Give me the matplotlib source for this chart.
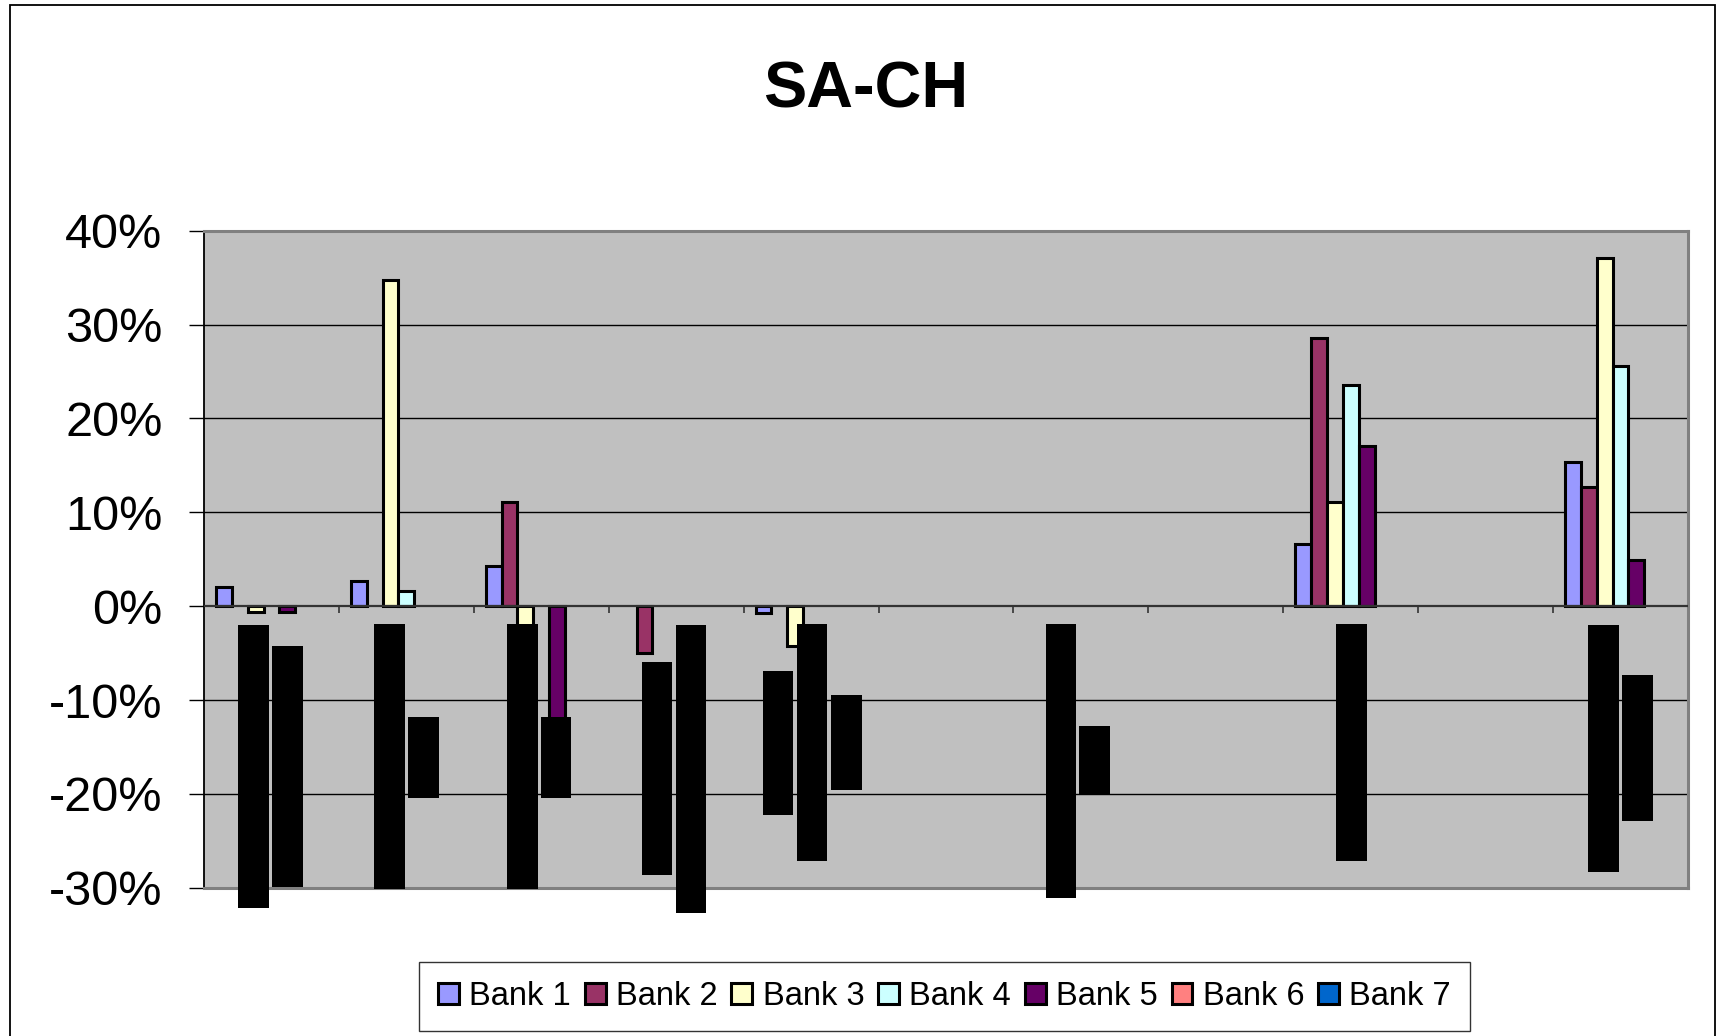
import numpy as np
import matplotlib
matplotlib.use("Agg")
import matplotlib.pyplot as plt
from matplotlib.patches import Rectangle
from matplotlib.ticker import FuncFormatter

# ---------------- data ----------------
categories = ["", "", "", "", "", "", "", "", "", "", ""]
nan = np.nan
bank1 = [2.0, 2.7, 4.3, nan, -0.7, nan, nan, nan, 6.6, nan, 15.4]
bank2 = [nan, nan, 11.1, -5.0, nan, nan, nan, nan, 28.6, nan, 12.75]
bank3 = [-0.65, 34.8, -3.0, nan, -4.25, nan, nan, nan, 11.1, nan, 37.1]
bank4 = [nan, 1.66, nan, nan, nan, nan, nan, nan, 23.6, nan, 25.6]
bank5 = [-0.65, nan, -13.0, nan, nan, nan, nan, nan, 17.05, nan, 4.9]
bank6 = [nan] * 11
bank7 = [nan] * 11
series_names = ["Bank 1", "Bank 2", "Bank 3", "Bank 4", "Bank 5", "Bank 6", "Bank 7"]
series_colors = ["#9999FF", "#993366", "#FFFFCC", "#CCFFFF", "#660066", "#FF8080", "#0066CC"]
y_ticks = [-30, -20, -10, 0, 10, 20, 30, 40]

# redaction boxes (black) covering data labels: category, offset from category centre, top, bottom (%)
box_cat = [0, 0, 1, 1, 2, 2, 3, 3, 4, 4, 4, 6, 6, 8, 10, 10]
box_off = [-0.132, 0.117, -0.126, 0.127, -0.139, 0.110, -0.141, 0.111,
           -0.246, 0.006, 0.261, -0.148, 0.102, 0.005, -0.128, 0.127]
box_top = [-2.05, -4.25, -1.95, -11.8, -1.95, -11.8, -5.96, -2.05,
           -6.9, -1.95, -9.5, -1.95, -12.8, -1.95, -2.05, -7.3]
box_bottom = [-32.2, -29.9, -30.1, -20.4, -30.1, -20.4, -28.6, -32.7,
              -22.3, -27.2, -19.6, -31.1, -20.0, -27.2, -28.3, -22.9]

series = [bank1, bank2, bank3, bank4, bank5, bank6, bank7]

# ---------------- figure ----------------
plt.rcParams['font.family'] = ['Liberation Sans', 'DejaVu Sans']
W, H = 1721, 1036
fig = plt.figure(figsize=(W / 100, H / 100), dpi=100)
fig.patch.set_facecolor("white")

# chart border
fig.patches.append(Rectangle((10 / W, -0.05), (1715 - 10) / W, 1 - 5 / H + 0.05,
                             transform=fig.transFigure, fill=False,
                             edgecolor="black", linewidth=1.3))

left, right = 204 / W, 1688 / W
top, bottom = 230.8 / H, 887.7 / H
ax = fig.add_axes([left, 1 - bottom, right - left, bottom - top])
ax.set_facecolor("#C0C0C0")

n_cat = len(categories)
n_ser = len(series)
x = np.arange(n_cat)
bw = 1 / 8.5

for j, (vals, name, col) in enumerate(zip(series, series_names, series_colors)):
    ax.bar(x + (j - (n_ser - 1) / 2) * bw, vals, width=bw, color=col,
           edgecolor="black", linewidth=2.2, label=name, zorder=3)

# redaction boxes
bx = np.array(box_cat) + np.array(box_off)
bh = np.array(box_bottom) - np.array(box_top)
ax.bar(bx, bh, bottom=box_top, width=0.227, color="black", edgecolor="none",
       zorder=6, clip_on=False)

ax.set_xlim(-0.5, n_cat - 0.5)
ax.set_ylim(-30, 40)

# gridlines
for t in y_ticks[1:-1]:
    if t != 0:
        ax.axhline(t, color="black", linewidth=1.0, zorder=1)

# category axis at zero
ax.axhline(0, color="#333333", linewidth=1.6, zorder=4)
sec = ax.secondary_xaxis(0, transform=ax.transData)
sec.set_xticks(np.arange(n_cat - 1) + 0.5)
sec.tick_params(axis="x", length=5, width=1.2, color="#333333",
                direction="out", labelbottom=False)
sec.spines["bottom"].set_visible(False)

ax.set_xticks([])
ax.set_yticks(y_ticks)
ax.yaxis.set_major_formatter(FuncFormatter(lambda v, p: f"{int(v)}%"))
ax.tick_params(axis="y", length=10.8, width=1.0, direction="out",
               labelsize=35, pad=19, colors="black")

for s in ["top", "right", "bottom"]:
    ax.spines[s].set_color("#808080")
    ax.spines[s].set_linewidth(2.2)
ax.spines["left"].set_color("black")
ax.spines["left"].set_linewidth(1.3)

# title
fig.text(865.5 / W, 1 - 107.3 / H, "SA-CH", fontsize=46.6, fontweight="bold",
         ha="center", va="baseline")

# legend
leg = fig.legend(loc="center", bbox_to_anchor=(944.5 / W, 1 - 996.8 / H),
                 ncol=7, fontsize=23.5, frameon=True, fancybox=False,
                 handlelength=0.64, handleheight=0.6, handletextpad=0.32,
                 columnspacing=0.42, borderpad=0.58, borderaxespad=0)
leg.get_frame().set_edgecolor("black")
leg.get_frame().set_linewidth(1.0)

fig.savefig("out.png", dpi=100, facecolor="white")
